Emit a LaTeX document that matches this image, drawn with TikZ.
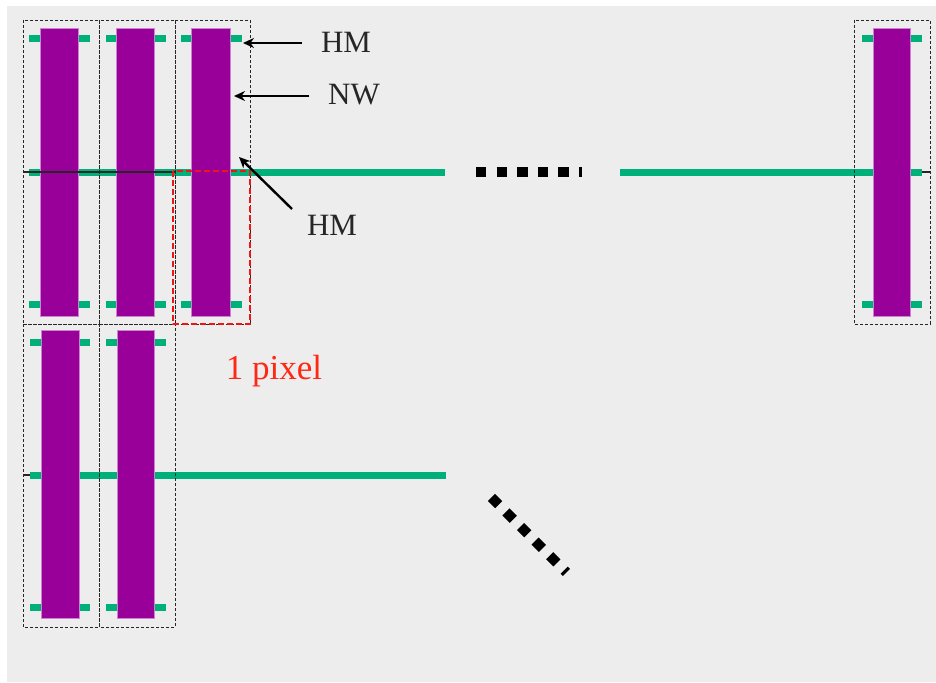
\documentclass[tikz,border=0pt]{standalone}
\usepackage{fontspec}
\setmainfont{Liberation Serif}
\usetikzlibrary{arrows.meta}
\definecolor{bggray}{RGB}{237,237,237}
\definecolor{hmgreen}{RGB}{0,176,122}
\definecolor{nwpurple}{RGB}{153,0,153}
\definecolor{nwedge}{RGB}{205,130,205}
\definecolor{pixred}{RGB}{255,40,20}
\definecolor{boxred}{RGB}{240,20,20}
\tikzset{
  cellbox/.style={draw=black!85, densely dashed, line width=0.9pt},
  nwbar/.style={fill=nwpurple, draw=nwedge, line width=0.6pt},
  hmbar/.style={draw=hmgreen, line width=7pt},
  hmline/.style={draw=hmgreen, line width=7pt},
  wire/.style={draw=black!85, line width=1.3pt},
  lbl/.style={font=\fontsize{31}{31}\selectfont, text=black!85, inner sep=0pt},
  pointer/.style={draw=black, line width=2.4pt, -{Stealth[length=11pt,width=10pt]}},
  ellipsis/.style={draw=black, line width=10pt, dash pattern=on 10.3pt off 10.3pt},
}
\begin{document}
\begin{tikzpicture}[x=1pt,y=-1pt]
\useasboundingbox (0,0) rectangle (936,682);
\fill[white] (0,0) rectangle (936,682);
\fill[bggray] (7,6) rectangle (936,682);

% long horizontal HM lines
\draw[hmline] (29,172) -- (445,172);
\draw[hmline] (620,172) -- (922,172);
\draw[hmline] (30,475) -- (446,475);

% top row cells
\foreach \xa/\xb/\pa/\pb/\ga/\gb in {23/99/40/78/29/90, 99/175/116/154/106/166, 175/250/191/230/181/242}{
  \draw[cellbox] (\xa,20) rectangle (\xb,324);
  \draw[hmbar] (\ga,39) -- (\gb,39);
  \draw[hmbar] (\ga,304) -- (\gb,304);
  \draw[nwbar] (\pa,28) rectangle (\pb,316);
}
% right cell
\draw[cellbox] (854,20) rectangle (930,324);
\draw[hmbar] (862,39) -- (922,39);
\draw[hmbar] (862,304) -- (922,304);
\draw[nwbar] (873,28) rectangle (910,316);
\coordinate (rw1) at (922,172);
\coordinate (rw2) at (930,172);
\draw[wire] (rw1) -- (rw2);

% bottom row cells
\foreach \xa/\xb/\pa/\pb/\ga/\gb in {23/99/41/79/30/90, 99/175/117/154/106/166}{
  \draw[cellbox] (\xa,324) rectangle (\xb,627);
  \draw[hmbar] (\ga,342) -- (\gb,342);
  \draw[hmbar] (\ga,607) -- (\gb,607);
  \draw[nwbar] (\pa,330) rectangle (\pb,618);
}

% black wires
\coordinate (tw1) at (23,172);
\coordinate (tw2) at (175,172);
\draw[wire] (tw1) -- (tw2);
\coordinate (bw1) at (23,475);
\coordinate (bw2) at (30,475);
\draw[wire] (bw1) -- (bw2);

% red pixel box
\draw[boxred, line width=2.3pt, dash pattern=on 6pt off 3pt] (173,171) rectangle (250,324);
\node[lbl, font=\fontsize{35}{35}\selectfont, text=pixred, anchor=base] (pix) at (274,379) {1 pixel};

% labels and pointers
\node[lbl] (hm1) at (346,42) {HM};
\node[lbl] (nw) at (354,95) {NW};
\node[lbl] (hm2) at (332,225) {HM};
\coordinate (a1s) at (302,43);
\coordinate (a1e) at (243,43);
\coordinate (a2s) at (309,96);
\coordinate (a2e) at (234,96);
\coordinate (a3s) at (292,209);
\coordinate (a3e) at (239,157);
\draw[pointer] (a1s) -- (a1e);
\draw[pointer] (a2s) -- (a2e);
\draw[pointer] (a3s) -- (a3e);

% ellipses
\coordinate (d1s) at (476,172);
\coordinate (d1e) at (582,172);
\draw[ellipsis] (d1s) -- (d1e);
\coordinate (d2s) at (491.4,497.4);
\coordinate (d2e) at (566.4,572.4);
\draw[ellipsis] (d2s) -- (d2e);
\end{tikzpicture}
\end{document}
